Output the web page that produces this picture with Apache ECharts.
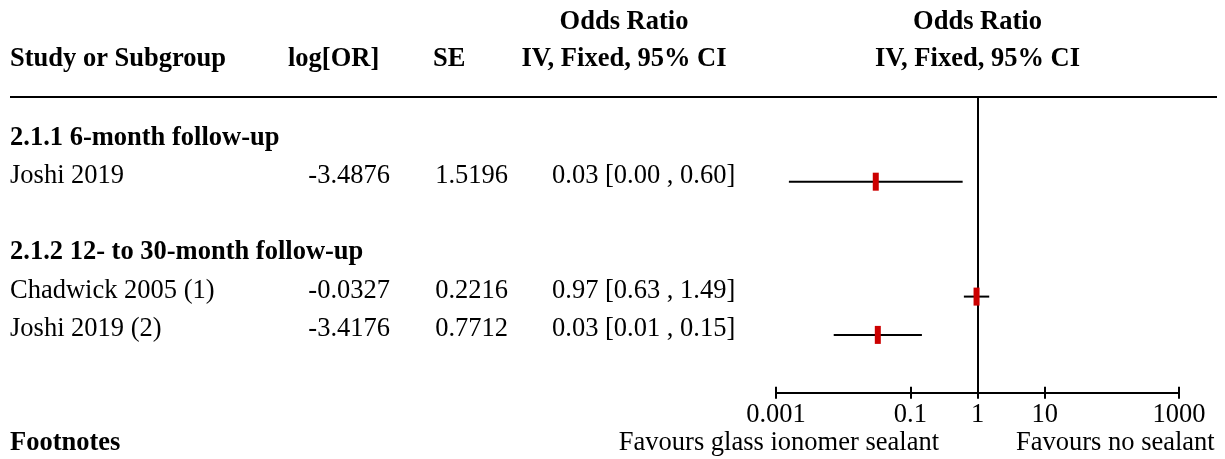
<!DOCTYPE html>
<html>
<head>
<meta charset="utf-8">
<script src="https://cdn.jsdelivr.net/npm/echarts@6/dist/echarts.min.js"></script>
<style>
html,body{margin:0;padding:0;background:#fff;}
#chart{width:1225px;height:459px;}
</style>
</head>
<body>
<div id="chart"></div>
<script>
// ---- data ----
const groups = ['2.1.1 6-month follow-up', '2.1.2 12- to 30-month follow-up'];
const studies = ['Joshi 2019', 'Chadwick 2005 (1)', 'Joshi 2019 (2)'];
const logOR = [-3.4876, -0.0327, -3.4176];
const se = [1.5196, 0.2216, 0.7712];
const tickValues = [0.001, 0.1, 1, 10, 1000];
const tickLabels = ['0.001', '0.1', '1', '10', '1000'];
const headerCols = ['Study or Subgroup', 'log[OR]', 'SE'];
const headerOR = ['Odds Ratio', 'IV, Fixed, 95% CI'];
const favours = ['Favours glass ionomer sealant', 'Favours no sealant'];
const footTitle = 'Footnotes';

// ---- layout (positions, not data) ----
const groupRow = [0, 3];
const studyRow = [1, 4, 5];
const FONT = '"Liberation Serif"';
const FS = 26.5;
const Z = 1.959964;

const ciLo = logOR.map((v, i) => Math.exp(v - Z * se[i]));
const ciHi = logOR.map((v, i) => Math.exp(v + Z * se[i]));
const orVal = logOR.map(v => Math.exp(v));
const orText = orVal.map((v, i) => v.toFixed(2) + ' [' + ciLo[i].toFixed(2) + ' , ' + ciHi[i].toFixed(2) + ']');

const chart = echarts.init(document.getElementById('chart'), null, {renderer: 'canvas'});

function labelFor(v) {
  let best = 0, d = Infinity;
  tickValues.forEach((t, i) => {
    const dd = Math.abs(Math.log10(t) - Math.log10(v));
    if (dd < d) { d = dd; best = i; }
  });
  return tickLabels[best];
}

const xBase = {
  type: 'log', logBase: 10, min: 0.001, max: 1000,
  position: 'bottom',
  splitLine: {show: false}
};

chart.setOption({
  animation: false,
  backgroundColor: '#fff',
  grid: {left: 776, right: 46, top: 97, bottom: 66.3, containLabel: false},
  xAxis: [
    Object.assign({}, xBase, {
      axisLine: {show: true, onZero: false, lineStyle: {color: '#000', width: 2}},
      axisTick: {show: true, inside: false, length: 6, lineStyle: {color: '#000', width: 2}, customValues: tickValues},
      axisLabel: {show: true, customValues: tickValues, formatter: labelFor, color: '#000',
        fontFamily: FONT, fontSize: FS, margin: 9, showMinLabel: true, showMaxLabel: true, hideOverlap: false}
    }),
    Object.assign({}, xBase, {
      offset: 0,
      axisLine: {show: false, onZero: false},
      axisTick: {show: true, inside: true, length: 6, lineStyle: {color: '#000', width: 2}, customValues: tickValues},
      axisLabel: {show: false}
    })
  ],
  yAxis: {type: 'value', inverse: true, min: -1.211, max: 6.509, show: false},
  series: [
    {
      type: 'custom',
      xAxisIndex: 0,
      renderItem: function (params, api) {
        const p1 = api.coord([api.value(0), api.value(2)]);
        const p2 = api.coord([api.value(1), api.value(2)]);
        return {type: 'line', shape: {x1: p1[0], y1: p1[1], x2: p2[0], y2: p2[1]},
          style: {stroke: '#000', lineWidth: 2}};
      },
      data: studies.map((s, i) => [ciLo[i], ciHi[i], studyRow[i]]),
      z: 3
    },
    {
      type: 'scatter',
      xAxisIndex: 0,
      symbol: 'rect',
      symbolSize: [6, 18],
      itemStyle: {color: '#cc0000', opacity: 1},
      data: studies.map((s, i) => [orVal[i], studyRow[i]]),
      z: 5,
      markLine: {
        silent: true, symbol: ['none', 'none'],
        label: {show: false},
        lineStyle: {color: '#000', width: 2, type: 'solid'},
        data: [{xAxis: 1}]
      }
    }
  ]
});

function T(text, x, y, align, bold) {
  return {type: 'text', silent: true, style: {
    text: text, x: x, y: y, textAlign: align || 'left', textVerticalAlign: 'middle',
    font: (bold ? 'bold ' : '') + FS + 'px ' + FONT, fill: '#000'}};
}
function rowY(r) { return chart.convertToPixel({yAxisIndex: 0}, r) - 5.7; }

const g = [];
// headers
g.push(T(headerOR[0], 624, 22.5, 'center', true));
g.push(T(headerOR[1], 624, 59, 'center', true));
g.push(T(headerOR[0], 977.5, 22.5, 'center', true));
g.push(T(headerOR[1], 977.5, 59, 'center', true));
g.push(T(headerCols[0], 10, 59, 'left', true));
g.push(T(headerCols[1], 288, 59, 'left', true));
g.push(T(headerCols[2], 433, 59, 'left', true));
g.push({type: 'line', silent: true, shape: {x1: 10, y1: 97, x2: 1217, y2: 97}, style: {stroke: '#000', lineWidth: 2}});
// groups
groups.forEach((s, i) => g.push(T(s, 10, rowY(groupRow[i]), 'left', true)));
// studies
studies.forEach((s, i) => {
  const y = rowY(studyRow[i]);
  g.push(T(s, 10, y, 'left'));
  g.push(T(logOR[i].toFixed(4), 390, y, 'right'));
  g.push(T(se[i].toFixed(4), 508, y, 'right'));
  g.push(T(orText[i], 552, y, 'left'));
});
// footer
g.push(T(footTitle, 10, 443, 'left', true));
g.push(T(favours[0], 939, 443, 'right'));
g.push(T(favours[1], 1016, 443, 'left'));

chart.setOption({graphic: g});
</script>
</body>
</html>
